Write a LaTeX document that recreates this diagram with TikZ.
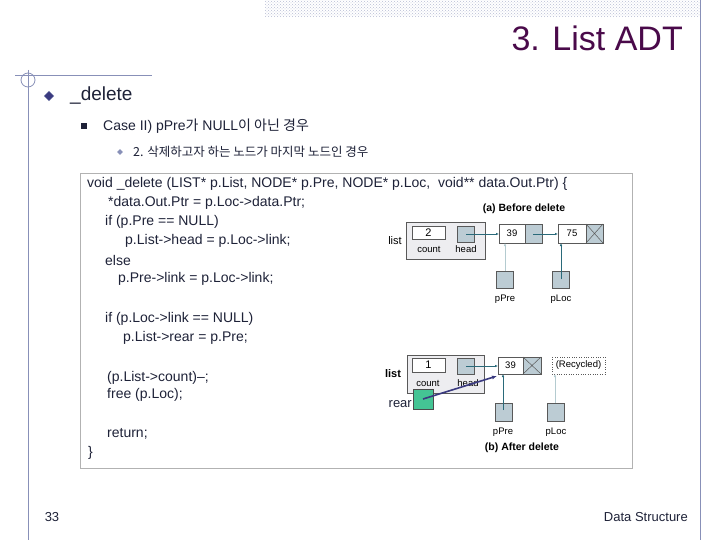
\documentclass[tikz,border=0pt]{standalone}
\usepackage{fontspec}
\setmainfont{Liberation Sans}
\newfontfamily\kr{Noto Sans CJK KR}
\usetikzlibrary{patterns,arrows.meta,shapes.geometric}
\definecolor{txt}{HTML}{1E2238}
\definecolor{ttl}{HTML}{4A0A4A}
\definecolor{lin}{HTML}{8890B8}
\definecolor{cellc}{HTML}{BCCCD4}
\definecolor{boxc}{HTML}{EDEDF0}
\definecolor{arr}{HTML}{2A6A7A}
\definecolor{grn}{HTML}{44C494}
\definecolor{navy}{HTML}{3A3A80}
\tikzset{
 code/.style={anchor=west,font=\fontsize{14}{14}\selectfont,text=txt,inner sep=0},
 lbl/.style={font=\fontsize{9.5}{10}\selectfont,inner sep=0},
 captext/.style={font=\bfseries\fontsize{10.5}{11}\selectfont,inner sep=0},
 cell/.style={draw=gray!70!black,fill=cellc,line width=0.5pt},
 wcell/.style={draw=gray!70!black,fill=white,line width=0.5pt},
 ptr/.style={draw=arr,line width=0.7pt,-{Latex[length=3pt,width=2.5pt]}},
}
\begin{document}
\begin{tikzpicture}[x=1pt,y=-1pt]
\useasboundingbox (0,0) rectangle (720,540);
\fill[white] (0,0) rectangle (720,540);
% decorations
\fill[pattern=crosshatch dots,pattern color=lin!60] (265,0) rectangle (700,17);
\draw[lin,line width=0.8pt] (700,0) -- (700,540);
\draw[lin,line width=0.8pt] (28,70) -- (28,540);
\draw[lin,line width=0.8pt] (15,75) -- (152,75);
\draw[lin,line width=0.8pt] (28,80) circle (7);
\node[anchor=east,text=ttl,font=\fontsize{34}{34}\selectfont,inner sep=0] (title) at (683,38) {3. List ADT};
% bullets
\node[diamond,fill=navy,draw=lin,minimum size=10pt,inner sep=0,aspect=1] (b1) at (49,96) {};
\node[anchor=west,text=txt,font=\fontsize{19}{19}\selectfont,inner sep=0] (t1) at (70,96) {\_delete};
\fill[txt] (81,123) rectangle (87,129);
\node[anchor=west,text=txt,font=\fontsize{14}{14}\selectfont,inner sep=0] (t2) at (103,126) {Case II) pPre{\kr 가} NULL{\kr 이 아닌 경우}};
\node[diamond,fill=lin,minimum size=6pt,inner sep=0] (b3) at (120,152) {};
\node[anchor=west,text=txt,font=\kr\fontsize{12.5}{13}\selectfont,inner sep=0] (t3) at (133,152) {2. 삭제하고자 하는 노드가 마지막 노드인 경우};
% code box
\draw[gray!60,line width=0.8pt,fill=white] (80,173) rectangle (632,468);
\node[code] (c1) at (87,184) {void \_delete (LIST* p.List, NODE* p.Pre, NODE* p.Loc,\ \ void** data.Out.Ptr) \{};
\node[code] (c2) at (108,203) {*data.Out.Ptr = p.Loc->data.Ptr;};
\node[code] (c3) at (105,222) {if (p.Pre == NULL)};
\node[code] (c4) at (125,241) {p.List->head = p.Loc->link;};
\node[code] (c5) at (105,260) {else};
\node[code] (c6) at (118,279) {p.Pre->link = p.Loc->link;};
\node[code] (c7) at (105,319) {if (p.Loc->link == NULL)};
\node[code] (c8) at (123,338) {p.List->rear = p.Pre;};
\node[code] (c9) at (107,378) {(p.List->count)--;};
\node[code] (c10) at (107,395) {free (p.Loc);};
\node[code] (c11) at (107,434) {return;};
\node[code] (c12) at (88,453) {\}};
% (a) before delete
\node[captext] (capa) at (524,209) {(a) Before delete};
\draw[gray!70!black,fill=boxc,line width=0.5pt] (406,222) rectangle (485,259);
\node[lbl,font=\fontsize{11}{11}\selectfont] (lista) at (395,241) {list};
\draw[wcell] (412,226) rectangle (445,239);
\node[lbl,font=\fontsize{11}{11}\selectfont] (cnta) at (428.5,232.5) {2};
\node[lbl] (cntla) at (429,249) {count};
\draw[cell] (457,226) rectangle (474,242);
\coordinate (heada) at (466,234);
\node[lbl] (headla) at (466,249) {head};
\draw[wcell] (499,224) rectangle (525,243);
\draw[cell] (525,224) rectangle (542,243);
\node[lbl] (n39a) at (512,233.5) {39};
\coordinate (n39al) at (499,234);
\coordinate (n39ar) at (533,234);
\coordinate (n39ab) at (505,243);
\draw[wcell] (558,224) rectangle (586,243);
\draw[cell] (586,224) rectangle (603,243);
\draw[gray!70!black,line width=0.5pt] (586,224) -- (603,243) (586,243) -- (603,224);
\node[lbl] (n75) at (572,233.5) {75};
\coordinate (n75l) at (558,234);
\coordinate (n75b) at (561,243);
\draw[ptr] (heada) -- (n39al);
\draw[ptr] (n39ar) -- (n75l);
\draw[cell] (496,271) rectangle (513,288);
\coordinate (ppa) at (505,271);
\node[lbl] (ppla) at (505,299) {pPre};
\draw[ptr,draw=arr!35] (ppa) -- (n39ab);
\draw[cell] (552,271) rectangle (569,288);
\coordinate (pla) at (561,279);
\node[lbl] (plla) at (561,299) {pLoc};
\draw[ptr] (pla) -- (n75b);
% (b) after delete
\draw[gray!70!black,fill=boxc,line width=0.5pt] (407,355) rectangle (484,393);
\node[lbl,font=\bfseries\fontsize{11}{11}\selectfont] (listb) at (393,374) {list};
\draw[wcell] (412,358) rectangle (445,372);
\node[lbl,font=\fontsize{11}{11}\selectfont] (cntb) at (428.5,365) {1};
\node[lbl] (cntlb) at (428,383) {count};
\draw[cell] (457,358) rectangle (474,374);
\coordinate (headb) at (466,366);
\node[lbl] (headlb) at (468,383) {head};
\draw[wcell] (498,357) rectangle (523,374);
\draw[cell] (523,357) rectangle (541,374);
\draw[gray!70!black,line width=0.5pt] (523,357) -- (541,374) (523,374) -- (541,357);
\node[lbl] (n39b) at (510.5,365.5) {39};
\coordinate (n39bl) at (498,366);
\coordinate (n39bb) at (503,374);
\coordinate (n39bc) at (497,376);
\draw[ptr] (headb) -- (n39bl);
\draw[dotted,gray!70!black] (552,357) rectangle (605,374);
\node[lbl] (rec) at (578.5,365.5) {(Recycled)};
\coordinate (recb) at (555,374);
\draw[fill=grn,draw=gray!60!black,line width=0.5pt] (413,389) rectangle (433,409);
\coordinate (rearc) at (423,399);
\node[anchor=east,inner sep=0,font=\fontsize{13}{13}\selectfont,text=txt] (rearl) at (412,404) {rear};
\draw[navy,line width=1.6pt,-{Latex[length=5pt,width=4pt]}] (rearc) -- (n39bc);
\draw[cell] (495,403) rectangle (512,421);
\coordinate (ppb) at (503,410);
\node[lbl] (pplb) at (503,432) {pPre};
\draw[ptr] (ppb) -- (n39bb);
\draw[cell] (547,403) rectangle (564,421);
\coordinate (plb) at (555,403);
\node[lbl] (pllb) at (556,432) {pLoc};
\draw[ptr,draw=arr!35] (plb) -- (recb);
\node[captext] (capb) at (522,448) {(b) After delete};
% footer
\node[text=txt,font=\fontsize{13}{13}\selectfont,inner sep=0] (pg) at (52,517) {33};
\node[anchor=east,text=txt,font=\fontsize{13}{13}\selectfont,inner sep=0] (ds) at (688,517) {Data Structure};
\end{tikzpicture}
\end{document}
